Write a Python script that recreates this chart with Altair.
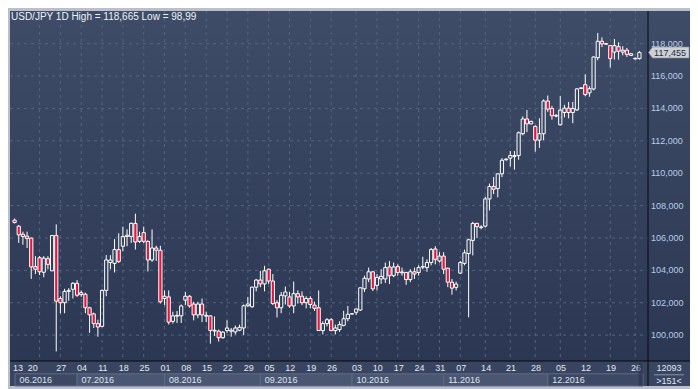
import altair as alt
import pandas as pd

# ---------------- data (USD/JPY daily bars, index -1 .. 149) ----------------
bar_index = list(range(-1, 150))
opens = [107.10,
    106.73, 106.23, 106.11, 105.99, 104.23, 104.78, 103.88, 104.72, 103.97, 106.15,
    102.26, 102.00, 102.70, 102.83, 103.20, 102.50, 102.52, 101.69, 101.31, 100.71,
    100.54, 102.76, 104.48, 104.43, 105.28, 105.49, 106.09, 106.09, 106.90, 105.79,
    106.33, 105.79, 104.64, 105.38, 105.24, 102.26, 102.36, 100.85, 101.22, 101.19,
    102.16, 102.40, 101.92, 101.25, 101.92, 101.22, 101.19, 100.30, 100.24, 99.84,
    100.28, 100.30, 100.20, 100.30, 100.44, 101.81, 101.75, 102.96, 103.40, 103.16,
    104.07, 103.34, 102.00, 101.69, 102.42, 102.36, 101.80, 102.56, 102.40, 102.00,
    102.26, 101.85, 101.69, 100.28, 100.71, 100.95, 100.28, 100.34, 100.60, 101.01,
    101.30, 101.41, 101.55, 102.86, 103.47, 103.91, 103.07, 103.47, 103.47, 104.21,
    103.67, 104.23, 103.90, 103.87, 103.43, 103.91, 103.87, 104.20, 104.17, 104.48,
    105.32, 104.58, 104.88, 104.13, 103.27, 102.95, 103.83, 104.43, 105.04, 105.85,
    106.90, 106.65, 106.73, 108.41, 109.18, 109.05, 109.96, 110.83, 110.93, 111.03,
    111.09, 112.44, 113.35, 113.05, 112.89, 112.04, 112.44, 114.46, 114.00, 113.53,
    112.99, 113.75, 114.02, 113.75, 113.91, 115.24, 115.47, 114.96, 115.20, 117.14,
    118.15, 117.97, 117.88, 117.48, 117.82, 117.48, 117.60, 117.28, 117.10, 117.08]
highs = [107.20,
    106.79, 106.39, 106.39, 106.02, 104.88, 104.88, 104.88, 104.88, 106.18, 106.84,
    102.40, 102.86, 102.90, 103.27, 103.40, 102.76, 102.62, 101.75, 101.39, 100.95,
    102.82, 104.94, 104.94, 105.93, 106.29, 106.70, 106.53, 106.96, 107.50, 106.39,
    106.70, 105.85, 106.53, 105.52, 105.52, 102.76, 102.76, 101.45, 101.49, 101.89,
    102.66, 102.46, 102.06, 102.06, 102.26, 101.45, 101.22, 101.15, 100.34, 100.24,
    100.91, 100.44, 100.59, 100.65, 101.89, 102.36, 102.99, 103.47, 103.97, 104.28,
    104.10, 103.77, 102.16, 102.66, 103.00, 102.66, 103.31, 102.76, 102.70, 102.40,
    102.40, 102.06, 102.76, 100.85, 101.05, 101.05, 100.65, 100.85, 101.50, 101.80,
    101.35, 101.65, 102.96, 103.67, 104.17, 103.97, 103.77, 104.07, 104.48, 104.58,
    104.48, 104.37, 104.17, 103.91, 104.07, 104.17, 104.31, 104.84, 104.68, 105.38,
    105.49, 105.12, 105.12, 104.17, 103.47, 103.30, 104.58, 105.28, 105.95, 107.00,
    106.94, 106.79, 108.55, 109.36, 109.76, 110.00, 110.93, 110.93, 111.37, 111.37,
    112.58, 113.51, 113.91, 113.25, 112.95, 113.39, 114.56, 114.80, 114.16, 113.65,
    114.76, 114.22, 114.40, 114.40, 115.26, 115.30, 116.11, 115.37, 117.22, 118.665,
    118.39, 118.05, 117.90, 118.29, 118.09, 117.85, 117.74, 117.42, 117.14, 117.54]
lows = [106.90,
    105.69, 105.58, 105.38, 103.47, 103.77, 103.71, 103.57, 104.07, 103.95, 98.99,
    101.35, 101.35, 102.12, 102.26, 102.36, 102.36, 101.35, 100.14, 100.44, 99.90,
    100.48, 102.40, 104.07, 103.87, 104.45, 105.18, 105.49, 105.69, 105.28, 105.69,
    105.69, 103.93, 104.52, 104.58, 101.95, 101.85, 100.65, 100.71, 100.75, 100.75,
    101.86, 101.69, 100.91, 101.05, 100.80, 100.80, 99.47, 99.94, 99.60, 99.78,
    100.14, 99.90, 100.04, 100.24, 100.00, 101.75, 101.69, 102.70, 102.96, 102.70,
    103.16, 101.85, 101.09, 101.35, 101.89, 101.69, 101.35, 101.95, 101.85, 101.65,
    101.65, 101.49, 100.26, 100.04, 100.54, 100.24, 100.04, 100.20, 100.54, 100.85,
    101.28, 101.25, 101.49, 102.66, 103.27, 102.72, 102.76, 103.16, 103.22, 103.16,
    103.57, 103.67, 103.67, 103.10, 103.27, 103.47, 103.67, 104.07, 103.91, 104.31,
    104.37, 104.48, 103.77, 102.96, 102.50, 102.76, 103.77, 104.31, 101.10, 104.92,
    105.99, 106.53, 106.65, 107.70, 108.71, 108.51, 109.76, 110.77, 110.42, 110.22,
    110.83, 112.34, 112.54, 113.02, 111.33, 111.57, 112.04, 113.79, 113.31, 113.45,
    112.95, 113.45, 113.39, 113.09, 113.85, 115.20, 114.76, 114.72, 115.12, 116.98,
    117.79, 117.95, 116.53, 117.02, 117.02, 117.28, 117.18, 117.24, 117.02, 117.02]
closes = [106.95,
    106.19, 106.09, 105.97, 104.21, 104.07, 103.91, 104.75, 104.37, 106.15, 102.10,
    102.00, 102.70, 102.76, 103.20, 102.46, 102.62, 101.69, 101.25, 100.71, 100.50,
    102.76, 104.64, 104.64, 105.28, 104.55, 106.09, 106.17, 106.90, 105.75, 106.09,
    105.79, 104.64, 105.38, 105.24, 102.06, 102.40, 100.80, 101.19, 101.17, 101.80,
    102.40, 101.80, 101.25, 101.92, 101.25, 101.17, 100.28, 100.25, 99.84, 100.18,
    100.44, 100.24, 100.44, 100.48, 101.81, 101.92, 102.96, 103.40, 103.16, 103.97,
    103.34, 101.95, 101.69, 102.46, 102.66, 101.80, 102.56, 102.36, 102.00, 102.26,
    101.89, 101.65, 100.28, 100.71, 100.95, 100.28, 100.44, 100.65, 101.01, 101.29,
    101.32, 101.61, 102.92, 103.51, 103.91, 102.86, 103.57, 103.63, 104.17, 103.67,
    104.21, 103.87, 103.85, 103.43, 103.91, 103.77, 104.17, 104.23, 104.48, 105.28,
    104.68, 104.88, 104.07, 103.27, 102.90, 103.15, 104.48, 105.08, 105.89, 106.90,
    106.70, 106.68, 108.41, 109.18, 109.01, 109.96, 110.80, 110.87, 111.09, 111.09,
    112.50, 113.35, 113.05, 113.20, 112.04, 112.44, 114.46, 113.96, 113.55, 113.57,
    113.90, 114.02, 113.75, 114.00, 115.21, 115.27, 114.86, 115.22, 117.18, 118.15,
    117.99, 118.00, 117.08, 117.88, 117.54, 117.60, 117.34, 117.38, 117.06, 117.455]

price_ticks = [100, 102, 104, 106, 108, 110, 112, 114, 116, 118]
week_starts = [5, 10, 15, 20, 25, 30, 35, 40, 45, 50, 55, 60, 65, 70, 75,
               81, 86, 91, 96, 101, 106, 112, 118, 124, 130, 136, 142, 148]
day_labels = ["13", "20", "27", "04", "11", "18", "25", "01", "08", "15", "22", "29",
              "05", "12", "19", "26", "03", "10", "17", "24", "31",
              "07", "14", "21", "28", "05", "12", "19", "26"]
day_label_pos = [-0.2, 3.35] + [w + 0.2 for w in week_starts[1:]]
month_labels = ["06.2016", "07.2016", "08.2016", "09.2016", "10.2016", "11.2016", "12.2016"]
month_first_bar = [-0.9, 14, 35, 58, 80, 102, 127]
month_end_bar = [14, 35, 58, 80, 102, 127, 149.86]
month_kind = ["part", "full", "full", "full", "full", "full", "part"]
last_price = 117.455
last_price_text = "117,455"
title_text = "USD/JPY 1D High = 118,665 Low = 98,99"
bars_total = "12093"
bars_visible = ">151<"

# ---------------- layout / style ----------------
W, H = 638, 350
RP = 42              # right price panel
X0, X1 = -0.9, 149.86
Y0, Y1 = 98.4, 120.02
FONT = "Liberation Sans"
GRID = "#56637f"
RED = "#e3173e"
BODY = 3.2

xs = alt.Scale(domain=[X0, X1], nice=False, zero=False)
ys = alt.Scale(domain=[Y0, Y1], nice=False, zero=False)

df = pd.DataFrame({"idx": bar_index, "o": opens, "h": highs, "l": lows, "c": closes})
df["top"] = df[["o", "c"]].max(axis=1)
df["bot"] = df[["o", "c"]].min(axis=1)
down_df = df[df["c"] < df["o"]]

ticks_df = pd.DataFrame({"v": price_ticks,
                         "label": [f"{v:.3f}".replace(".", ",") for v in price_ticks]})
weeks_df = pd.DataFrame({"pos": week_starts})
days_df = pd.DataFrame({"pos": day_label_pos, "t": day_labels})
months_df = pd.DataFrame({"start": month_first_bar, "end": month_end_bar,
                          "t": month_labels, "kind": month_kind})
last_df = pd.DataFrame({"v": [last_price], "t": [last_price_text]})
one = pd.DataFrame({"k": [0]})

grad = alt.LinearGradient(
    gradient="linear",
    stops=[alt.GradientStop(color="#3f4c68", offset=0),
           alt.GradientStop(color="#2b3753", offset=1)],
    x1=0, x2=0, y1=0, y2=1)

bg = alt.Chart(one).mark_rect(fill=grad).encode(
    x=alt.value(0), x2=alt.value(W + RP), y=alt.value(0), y2=alt.value(H))

band = alt.Chart(one).mark_rect(fill="#384460").encode(
    x=alt.value(0), x2=alt.value(W + RP), y=alt.value(H), y2=alt.value(H + 25))

month_boxes = alt.Chart(months_df).mark_rect(stroke="#5f6b86", strokeWidth=1).encode(
    x=alt.X("start:Q", scale=xs, axis=None), x2="end:Q",
    y=alt.value(H + 12.8), y2=alt.value(H + 25),
    fill=alt.Fill("kind:N", scale=alt.Scale(domain=["full", "part"],
                                            range=["#4a5672", "#3c4864"]), legend=None))

vgrid = alt.Chart(weeks_df).mark_rule(color=GRID, strokeDash=[3, 4], strokeWidth=1).encode(
    x=alt.X("pos:Q", scale=xs, axis=None), y=alt.value(0), y2=alt.value(H))

hgrid = alt.Chart(ticks_df).mark_rule(color=GRID, strokeDash=[3, 4], strokeWidth=1).encode(
    y=alt.Y("v:Q", scale=ys, axis=None), x=alt.value(0), x2=alt.value(W))

upper = alt.Chart(df).mark_rule(color="white", strokeWidth=1, clip=True).encode(
    x=alt.X("idx:Q", scale=xs, axis=None),
    y=alt.Y("h:Q", scale=ys, axis=None), y2="top:Q")
lower = alt.Chart(df).mark_rule(color="white", strokeWidth=1, clip=True).encode(
    x=alt.X("idx:Q", scale=xs, axis=None),
    y=alt.Y("bot:Q", scale=ys, axis=None), y2="l:Q")
red_fill = alt.Chart(down_df).mark_bar(size=BODY, color=RED, clip=True).encode(
    x=alt.X("idx:Q", scale=xs, axis=None),
    y=alt.Y("o:Q", scale=ys, axis=None), y2="c:Q")
outline = alt.Chart(df).mark_bar(size=BODY, fillOpacity=0, stroke="white",
                                 strokeWidth=1, clip=True).encode(
    x=alt.X("idx:Q", scale=xs, axis=None),
    y=alt.Y("top:Q", scale=ys, axis=None), y2="bot:Q")

vline = alt.Chart(one).mark_rule(color="#05080f", strokeWidth=1).encode(
    x=alt.value(W), y=alt.value(0), y2=alt.value(H + 25))
hline = alt.Chart(one).mark_rule(color="#05080f", strokeWidth=1).encode(
    x=alt.value(0), x2=alt.value(W + RP), y=alt.value(H))

ylabels = alt.Chart(ticks_df).mark_text(align="left", baseline="middle", font=FONT,
                                        fontSize=9, color="#b9cde8").encode(
    y=alt.Y("v:Q", scale=ys, axis=None), x=alt.value(W + 3), text="label:N")

tag_shape = "M-1,0L-0.8,-0.27L1,-0.27L1,0.27L-0.8,0.27Z"
tag = alt.Chart(last_df).mark_point(shape=tag_shape, size=1640, filled=True,
                                    fill="#cdd0d5", stroke="#8d939c", strokeWidth=0.6,
                                    opacity=1).encode(
    x=alt.value(W + 20.75), y=alt.Y("v:Q", scale=ys, axis=None))
tag_text = alt.Chart(last_df).mark_text(align="center", baseline="middle", font=FONT,
                                        fontSize=9, color="#1f2b44").encode(
    x=alt.value(W + 22), y=alt.Y("v:Q", scale=ys, axis=None), text="t:N")

day_text = alt.Chart(days_df).mark_text(align="center", baseline="middle", font=FONT,
                                        fontSize=9, color="#e2e8f0").encode(
    x=alt.X("pos:Q", scale=xs, axis=None), y=alt.value(H + 7.4), text="t:N")
month_text = alt.Chart(months_df).mark_text(align="left", baseline="middle", font=FONT,
                                            fontSize=9, dx=4.5, color="#dde3ec").encode(
    x=alt.X("start:Q", scale=xs, axis=None), y=alt.value(H + 19.2), text="t:N")

corner = alt.Chart(one).mark_rect(fill="#3a4661").encode(
    x=alt.value(W + 1), x2=alt.value(W + RP), y=alt.value(H + 1), y2=alt.value(H + 25))
corner_rule = alt.Chart(one).mark_rule(color="#8794ab", strokeWidth=1).encode(
    x=alt.value(W + 6), x2=alt.value(W + 36), y=alt.value(H + 13.8))
corner_t1 = alt.Chart(pd.DataFrame({"t": [bars_total]})).mark_text(
    align="center", baseline="middle", font=FONT, fontSize=9, color="#dfe6f0").encode(
    x=alt.value(W + 21), y=alt.value(H + 7.4), text="t:N")
corner_t2 = alt.Chart(pd.DataFrame({"t": [bars_visible]})).mark_text(
    align="center", baseline="middle", font=FONT, fontSize=9, color="#dfe6f0").encode(
    x=alt.value(W + 21), y=alt.value(H + 19.6), text="t:N")

scroll = alt.Chart(one).mark_rect(fill="#25304a", opacity=0.5, stroke="#4d5973",
                                  strokeWidth=0.6).encode(
    x=alt.value(W - 10), x2=alt.value(W - 5), y=alt.value(H + 1), y2=alt.value(H + 25))

title = alt.Chart(pd.DataFrame({"t": [title_text]})).mark_text(
    align="left", baseline="middle", font=FONT, fontSize=10, color="#eef2f8").encode(
    x=alt.value(1), y=alt.value(5.5), text="t:N")

chart = alt.layer(
    bg, band, month_boxes, vgrid, hgrid, upper, lower, red_fill, outline,
    vline, hline, ylabels, tag, tag_text, day_text, month_text,
    corner, corner_rule, corner_t1, corner_t2, scroll, title
).properties(
    width=W, height=H,
    padding={"left": 2, "top": 3, "right": RP, "bottom": 28},
    autosize=alt.AutoSizeParams(type="none"),
    background="#b9c0cc",
).configure_view(stroke=None)

chart.save("out.html", embed_options={"renderer": "svg", "actions": False})
